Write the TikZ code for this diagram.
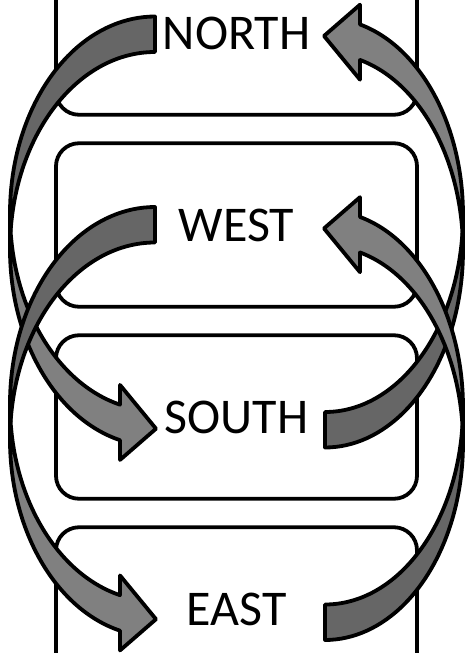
\documentclass[tikz,border=0pt]{standalone}
\usepackage{fontspec}
\setmainfont{Carlito}
\usetikzlibrary{positioning}

\definecolor{arrowfront}{HTML}{808080}
\definecolor{arrowback}{HTML}{666666}

\tikzset{
  roombox/.style={draw, line width=3.8pt, rounded corners=23pt, outer sep=0pt,
    minimum width=361pt, minimum height=163.5pt, inner sep=0pt,
    font=\fontsize{50}{60}\selectfont},
  bendline/.style={draw, line width=3.8pt, line join=round},
}

% curved block arrow, tail at local (0,0)--(0,35.5), head further down; #1 = width
\newcommand{\bendarrow}[1]{%
  \pgfmathsetmacro{\arrw}{#1}
  \pgfmathsetmacro{\arrphi}{180-acos(35/#1)}
  \pgfmathsetmacro{\arryv}{197+197*sin(\arrphi)}
  \pgfmathsetmacro{\arrdl}{asin(35.5/394)}
  % front face
  \filldraw[bendline, fill=arrowfront] (-\arrw,197)
    arc[start angle=180, end angle=\arrphi, x radius=\arrw, y radius=197]
    -- (-35,\arryv-19.75) -- (1,\arryv+24) -- (-35,\arryv+55.25) -- (-35,\arryv+35.5)
    arc[start angle=\arrphi, end angle=180, x radius=\arrw, y radius=197] -- cycle;
  % back face
  \filldraw[bendline, fill=arrowback] (0,35.5)
    arc[start angle=270, end angle=180+\arrdl, x radius=\arrw, y radius=197]
    arc[start angle=180-\arrdl, end angle=270, x radius=\arrw, y radius=197] -- cycle;
}

\begin{document}
\begin{tikzpicture}[x=1pt, y=-1pt]
  \useasboundingbox (0,0) rectangle (470,653);
  \clip (0,0) rectangle (470,653);

  % rooms
  \node[roombox] (north) at (236.5,33) {NORTH};
  \node[roombox, below=28.5pt of north] (west) {WEST};
  \node[roombox, below=28.5pt of west] (south) {SOUTH};
  \node[roombox, below=28.5pt of south] (east) {EAST};

  % north to south, south to north
  \begin{scope}[shift={(155,16.5)}] \bendarrow{145} \end{scope}
  \begin{scope}[shift={(325,447.5)}, rotate=180] \bendarrow{138} \end{scope}

  % west to east, east to west
  \begin{scope}[shift={(155,207)}] \bendarrow{145} \end{scope}
  \begin{scope}[shift={(325,640)}, rotate=180] \bendarrow{138} \end{scope}
\end{tikzpicture}
\end{document}
